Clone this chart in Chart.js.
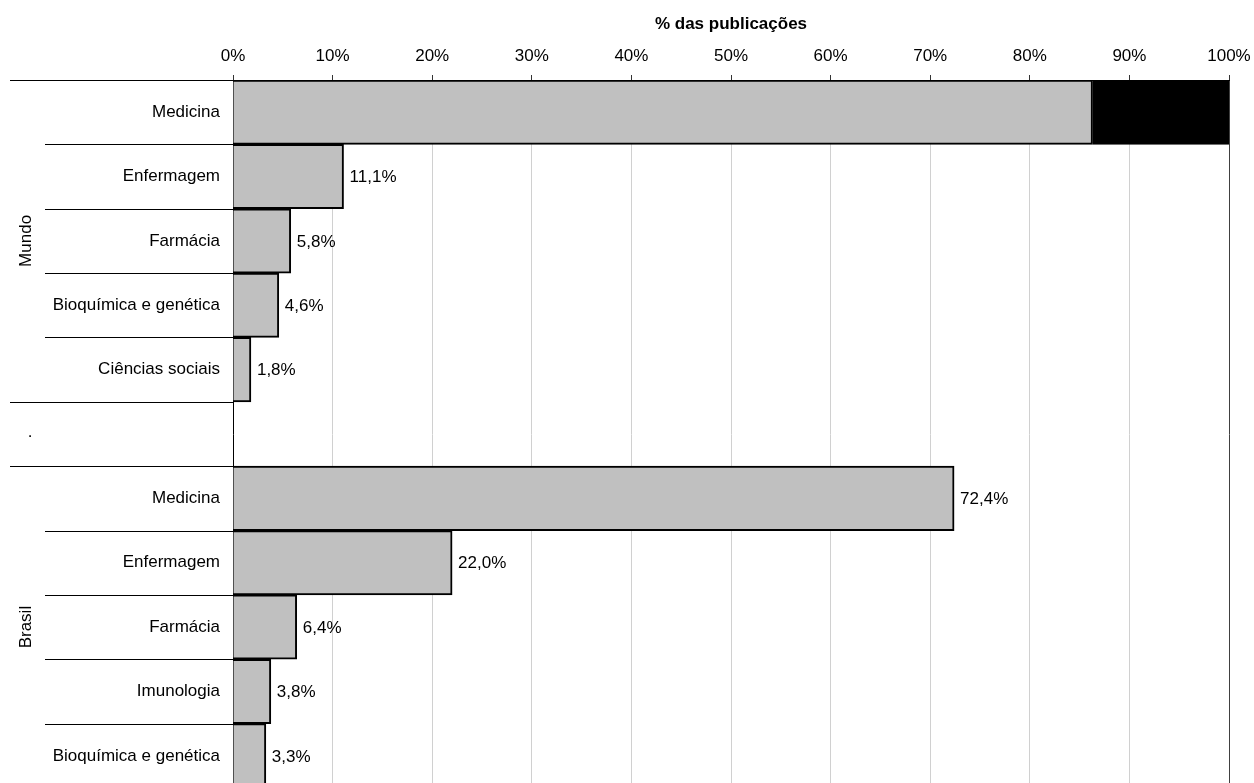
<!DOCTYPE html>
<html>
<head>
<meta charset="utf-8">
<script src="https://cdn.jsdelivr.net/npm/chart.js@4/dist/chart.umd.min.js"></script>
<style>
  html, body { margin: 0; padding: 0; background: #fff; overflow: hidden; }
  #c { display: block; }
</style>
</head>
<body>
<canvas id="c" width="1254" height="790"></canvas>
<script>
// ---- data ----
const categories = [
  'Medicina', 'Enfermagem', 'Farmácia', 'Bioquímica e genética', 'Ciências sociais',
  '',
  'Medicina', 'Enfermagem', 'Farmácia', 'Imunologia', 'Bioquímica e genética'
];
const groupNames = ['Mundo', '.', 'Brasil'];
const groupStarts = [0, 5, 6];
const groupSizes = [5, 1, 5];
const shareValues = [86.3, 11.1, 5.8, 4.6, 1.8, null, 72.4, 22.0, 6.4, 3.8, 3.3];
const remainderValues = [13.7, null, null, null, null, null, null, null, null, null, null];
const axisTitle = '% das publicações';
const FONT = '"Liberation Sans", Arial, sans-serif';

const fmt = v => v.toFixed(1).replace('.', ',') + '%';

const decorPlugin = {
  id: 'decor',
  afterDatasetsDraw(chart) {
    const ctx = chart.ctx;
    const xs = chart.scales.x, ys = chart.scales.y;
    ctx.save();
    ctx.fillStyle = '#000';
    ctx.font = '17px ' + FONT;
    ctx.textAlign = 'left';
    ctx.textBaseline = 'middle';
    shareValues.forEach((v, i) => {
      if (v == null || remainderValues[i] != null) return;
      ctx.fillText(fmt(v), xs.getPixelForValue(v) + 6, ys.getPixelForValue(i) + 1);
    });
    ctx.restore();
  },
  afterDraw(chart) {
    const ctx = chart.ctx;
    const ys = chart.scales.y;
    const area = chart.chartArea;
    const n = categories.length;
    const boundary = i => {
      if (i <= 0) return area.top;
      if (i >= n) return area.bottom;
      return (ys.getPixelForValue(i - 1) + ys.getPixelForValue(i)) / 2;
    };
    ctx.save();
    ctx.strokeStyle = '#000';
    ctx.lineWidth = 1;
    const groupEdges = new Set();
    groupStarts.forEach((s, g) => { groupEdges.add(s); groupEdges.add(s + groupSizes[g]); });
    for (let i = 0; i <= n; i++) {
      const y = Math.round(boundary(i)) + 0.5;
      const x0 = groupEdges.has(i) ? 10 : 45;
      ctx.beginPath();
      ctx.moveTo(x0, y);
      ctx.lineTo(area.left, y);
      ctx.stroke();
    }
    ctx.fillStyle = '#000';
    ctx.font = '17px ' + FONT;
    ctx.textAlign = 'center';
    ctx.textBaseline = 'middle';
    groupNames.forEach((name, g) => {
      const yc = (boundary(groupStarts[g]) + boundary(groupStarts[g] + groupSizes[g])) / 2;
      if (name === '.') {
        ctx.fillText(name, 30, yc - 2);
      } else {
        ctx.save();
        ctx.translate(26, yc);
        ctx.rotate(-Math.PI / 2);
        ctx.fillText(name, 0, 0);
        ctx.restore();
      }
    });
    ctx.restore();
  }
};

new Chart(document.getElementById('c'), {
  type: 'bar',
  data: {
    labels: categories,
    datasets: [
      {
        label: 'share',
        data: shareValues,
        backgroundColor: '#c0c0c0',
        borderColor: '#000',
        borderWidth: 2,
        barPercentage: 1,
        categoryPercentage: 1
      },
      {
        label: 'rest',
        data: remainderValues,
        backgroundColor: '#000',
        borderColor: '#000',
        borderWidth: 2,
        barPercentage: 1,
        categoryPercentage: 1
      }
    ]
  },
  options: {
    indexAxis: 'y',
    responsive: false,
    animation: false,
    devicePixelRatio: 1,
    layout: { padding: { left: 0, right: 25, top: 0, bottom: 2 } },
    plugins: { legend: { display: false }, tooltip: { enabled: false } },
    scales: {
      x: {
        position: 'top',
        stacked: true,
        min: 0,
        max: 100,
        afterFit(scale) {
          scale.height = 80;
          scale.paddingLeft = 0; scale.paddingRight = 0;
        },
        ticks: {
          stepSize: 10,
          padding: 8,
          color: '#000',
          font: { family: FONT, size: 17 },
          callback: v => v + '%'
        },
        grid: {
          color: c => (c.tick && c.tick.value === 100) ? '#404040' : '#d0d0d0',
          tickColor: '#333',
          tickLength: 5,
          lineWidth: 1
        },
        border: { display: true, color: '#000', width: 1 },
        title: {
          display: true,
          text: axisTitle,
          color: '#000',
          font: { family: FONT, size: 17, weight: 'bold' },
          padding: { top: 14, bottom: 0 }
        }
      },
      y: {
        stacked: true,
        afterFit(scale) {
          scale.width = 233;
          scale.paddingTop = 0; scale.paddingBottom = 0;
        },
        ticks: {
          padding: 13,
          color: '#000',
          font: { family: FONT, size: 17 },
          autoSkip: false
        },
        grid: { display: false, drawTicks: false },
        border: { display: true, color: '#000', width: 1 }
      }
    }
  },
  plugins: [decorPlugin]
});
</script>
</body>
</html>
